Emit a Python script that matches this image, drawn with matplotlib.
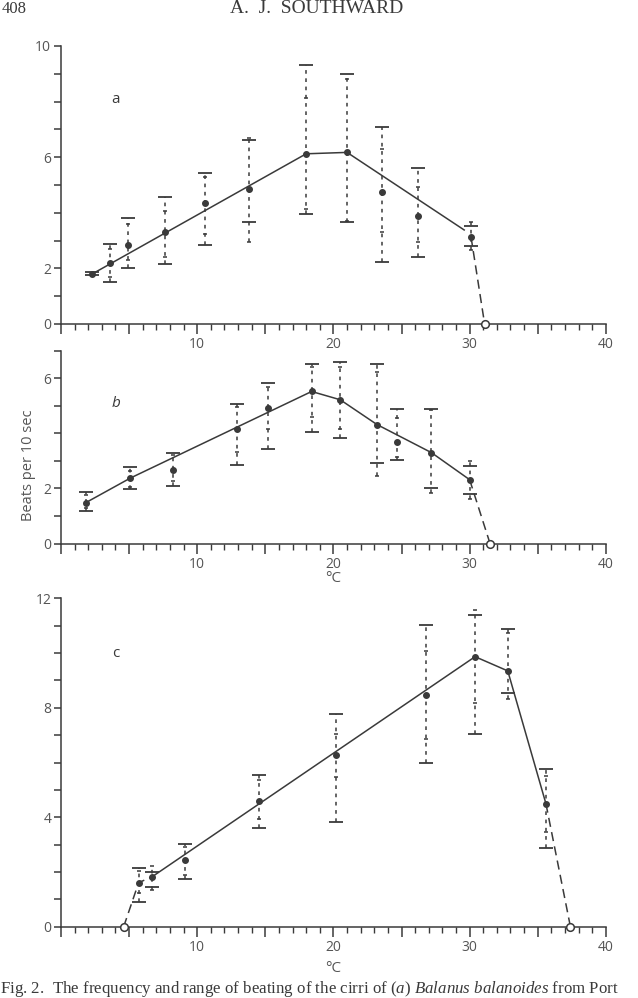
import matplotlib
matplotlib.use("Agg")
import matplotlib.pyplot as plt
from matplotlib.ticker import MultipleLocator, FuncFormatter

# ---- data (temperature in deg C, beats per 10 sec) ----
# (a)
a_temp = [2.3, 3.6, 4.9, 7.6, 10.6, 13.8, 18.0, 21.0, 23.6, 26.2, 30.1]
a_mean = [1.80, 2.18, 2.84, 3.30, 4.34, 4.86, 6.12, 6.17, 4.76, 3.90, 3.14]
a_cap_hi = [1.88, 2.88, 3.80, 4.58, 5.44, 6.62, 9.33, 9.00, 7.10, 5.60, 3.54]
a_cap_lo = [1.76, 1.50, 2.00, 2.15, 2.84, 3.67, 3.95, 3.65, 2.22, 2.42, 2.80]
a_in_hi = [1.85, 2.70, 3.60, 4.07, 5.30, 6.70, 8.14, 8.80, 6.30, 4.94, 3.65]
a_in_lo = [1.76, 1.70, 2.30, 2.40, 3.25, 2.95, 4.14, 3.70, 3.32, 2.94, 2.66]
a_fit_t = [2.3, 18.0, 21.0, 29.6]
a_fit_v = [1.80, 6.12, 6.17, 3.38]
a_tail_t = [30.1, 31.1]
a_tail_v = [3.14, 0.0]
a_zero = [31.1]

# (b)
b_temp = [1.8, 5.1, 8.2, 12.9, 15.2, 18.4, 20.5, 23.2, 24.7, 27.2, 30.0]
b_mean = [1.48, 2.38, 2.68, 4.15, 4.93, 5.52, 5.22, 4.32, 3.70, 3.30, 2.32]
b_cap_hi = [1.87, 2.77, 3.27, 5.05, 5.83, 6.52, 6.60, 6.50, 4.90, 4.90, 2.82]
b_cap_lo = [1.20, 1.98, 2.09, 2.85, 3.45, 4.06, 3.84, 2.94, 3.04, 2.02, 1.81]
b_in_hi = [1.75, 2.65, 3.20, 4.96, 5.70, 6.42, 6.40, 6.22, 4.54, 4.84, 2.98]
b_in_lo = [1.30, 2.05, 2.26, 3.34, 4.15, 4.60, 4.15, 2.44, 3.16, 1.84, 1.62]
b_fit_t = [1.8, 5.1, 18.4, 20.5, 23.2, 27.2, 30.0]
b_fit_v = [1.48, 2.38, 5.52, 5.22, 4.32, 3.30, 2.32]
b_tail_t = [30.0, 31.5]
b_tail_v = [2.32, 0.0]
b_zero = [31.5]

# (c)
c_temp = [5.7, 6.7, 9.1, 14.5, 20.2, 26.8, 30.4, 32.8, 35.6]
c_mean = [1.61, 1.83, 2.44, 4.60, 6.27, 8.47, 9.87, 9.35, 4.50]
c_cap_hi = [2.13, 1.99, 3.01, 5.54, 7.77, 11.02, 11.41, 10.88, 5.75]
c_cap_lo = [0.91, 1.44, 1.73, 3.62, 3.84, 5.99, 7.04, 8.56, 2.86]
c_in_hi = [2.03, 2.22, 2.92, 5.36, 7.06, 10.09, 11.57, 10.72, 5.50]
c_in_lo = [1.22, 1.34, 1.89, 3.92, 5.48, 6.85, 8.16, 8.34, 3.45]
c_fit_t = [6.7, 30.4, 32.8, 35.6]
c_fit_v = [1.83, 9.87, 9.35, 4.50]
c_head_t = [4.6, 5.7, 6.7]
c_head_v = [0.0, 1.61, 1.83]
c_tail_t = [35.6, 37.4]
c_tail_v = [4.50, 0.0]
c_zero = [4.6, 37.4]

INK = "#3a3a3a"
LABEL = "#555555"
SANS = ["Open Sans", "DejaVu Sans"]
SERIF = ["Liberation Serif", "DejaVu Serif"]

plt.rcParams["font.family"] = SANS
plt.rcParams["mathtext.fontset"] = "custom"
plt.rcParams["mathtext.rm"] = "Liberation Serif"
plt.rcParams["mathtext.it"] = "Liberation Serif:italic"


def style_axis(ax, ymax, ylabels):
    ax.set_xlim(0, 40)
    ax.set_ylim(0, ymax)
    for side in ("top", "right"):
        ax.spines[side].set_visible(False)
    for side in ("left", "bottom"):
        ax.spines[side].set_color(INK)
        ax.spines[side].set_linewidth(1.1)
    ax.xaxis.set_major_locator(MultipleLocator(5))
    ax.xaxis.set_minor_locator(MultipleLocator(1))
    ax.xaxis.set_major_formatter(
        FuncFormatter(lambda v, p: f"{v:.0f}" if v > 0 and v % 10 == 0 else ""))
    ax.yaxis.set_major_locator(MultipleLocator(1))
    ax.yaxis.set_major_formatter(
        FuncFormatter(lambda v, p: f"{v:.0f}" if round(v) in ylabels else ""))
    ax.tick_params(axis="x", which="major", direction="out", length=7, width=1.1,
                   color=INK, labelcolor=LABEL, labelsize=10, pad=2.5)
    ax.tick_params(axis="x", which="minor", direction="out", length=4, width=1.0,
                   color=INK)
    ax.tick_params(axis="y", direction="out", length=5, width=1.1, color=INK,
                   labelcolor=LABEL, labelsize=10, pad=2)


def draw_panel(ax, temp, mean, cap_hi, cap_lo, in_hi, in_lo):
    for t, ch, cl, ih, il in zip(temp, cap_hi, cap_lo, in_hi, in_lo):
        ax.plot([t, t], [min(cl, il), max(ch, ih)], color=INK, lw=1.1,
                ls=(0, (2.4, 3.0)), zorder=2)
    ax.plot(temp, cap_hi, ls="none", marker="_", ms=10, mew=1.3, color=INK, zorder=3)
    ax.plot(temp, cap_lo, ls="none", marker="_", ms=10, mew=1.3, color=INK, zorder=3)
    ax.plot(temp, in_hi, ls="none", marker="_", ms=3.5, mew=1.1, color=INK, zorder=3)
    ax.plot(temp, in_lo, ls="none", marker="_", ms=3.5, mew=1.1, color=INK, zorder=3)
    ax.plot(temp, mean, ls="none", marker="o", ms=4, color=INK, zorder=4)


def draw_zero(ax, temps):
    ax.plot(temps, [0] * len(temps), ls="none", marker="o", ms=5.5, mfc="white",
            mec=INK, mew=1.1, zorder=5, clip_on=False)


fig = plt.figure(figsize=(6.38, 9.98), dpi=100)
ax_a = fig.add_axes([0.0956, 0.6754, 0.854, 0.2786])
ax_b = fig.add_axes([0.0956, 0.4553, 0.854, 0.1933])
ax_c = fig.add_axes([0.0956, 0.0714, 0.854, 0.3290])

# (a)
style_axis(ax_a, 10, [0, 2, 6, 10])
draw_panel(ax_a, a_temp, a_mean, a_cap_hi, a_cap_lo, a_in_hi, a_in_lo)
ax_a.plot(a_fit_t, a_fit_v, color=INK, lw=1.1, zorder=1)
ax_a.plot(a_tail_t, a_tail_v, color=INK, lw=1.1, ls=(0, (6, 3.5)), zorder=1)
draw_zero(ax_a, a_zero)
ax_a.text(4.0, 8.06, "a", fontsize=11, color=INK, ha="center", va="center")
ax_a.annotate("°C", xy=(27.1, 0), xycoords=("data", "axes fraction"),
              xytext=(0, -25), textcoords="offset points", ha="center",
              va="center", fontsize=11, color=LABEL)

# (b)
style_axis(ax_b, 7, [0, 2, 6])
draw_panel(ax_b, b_temp, b_mean, b_cap_hi, b_cap_lo, b_in_hi, b_in_lo)
ax_b.plot(b_fit_t, b_fit_v, color=INK, lw=1.1, zorder=1)
ax_b.plot(b_tail_t, b_tail_v, color=INK, lw=1.1, ls=(0, (6, 3.5)), zorder=1)
draw_zero(ax_b, b_zero)
ax_b.text(4.0, 5.08, "b", fontsize=11, style="italic", color=INK,
          ha="center", va="center")
ax_b.annotate("°C", xy=(20, 0), xycoords=("data", "axes fraction"),
              xytext=(0, -25), textcoords="offset points", ha="center",
              va="center", fontsize=11, color=LABEL)
fig.text(28 / 638, 1 - 465 / 998, "Beats per 10 sec", rotation=90, ha="center",
         va="center", fontsize=10.5, color=LABEL)

# (c)
style_axis(ax_c, 12, [0, 4, 8, 12])
draw_panel(ax_c, c_temp, c_mean, c_cap_hi, c_cap_lo, c_in_hi, c_in_lo)
ax_c.plot(c_fit_t, c_fit_v, color=INK, lw=1.1, zorder=1)
ax_c.plot(c_head_t, c_head_v, color=INK, lw=1.1, ls=(0, (6, 3.5)), zorder=1)
ax_c.plot(c_tail_t, c_tail_v, color=INK, lw=1.1, ls=(0, (6, 3.5)), zorder=1)
draw_zero(ax_c, c_zero)
ax_c.text(4.0, 10.0, "c", fontsize=11, color=INK, ha="center", va="center")
ax_c.annotate("°C", xy=(20, 0), xycoords=("data", "axes fraction"),
              xytext=(0, -30), textcoords="offset points", ha="center",
              va="center", fontsize=11, color=LABEL)

# page header and caption
fig.text(0.002, 1 - 13 / 998, "408", family=SERIF, fontsize=12, color=INK,
         va="baseline", ha="left")
fig.text(317 / 638, 1 - 13 / 998, "A.  J.  SOUTHWARD", family=SERIF, fontsize=14,
         color=INK, va="baseline", ha="center")
fig.text(0.0, 1 - 993 / 998,
         r"Fig. 2.  The frequency and range of beating of the cirri of "
         r"($\it{a}$) $\it{Balanus\ balanoides}$ from Port",
         family=SERIF, fontsize=12.2, color=INK, va="baseline", ha="left")

fig.savefig("out.png", dpi=100)
